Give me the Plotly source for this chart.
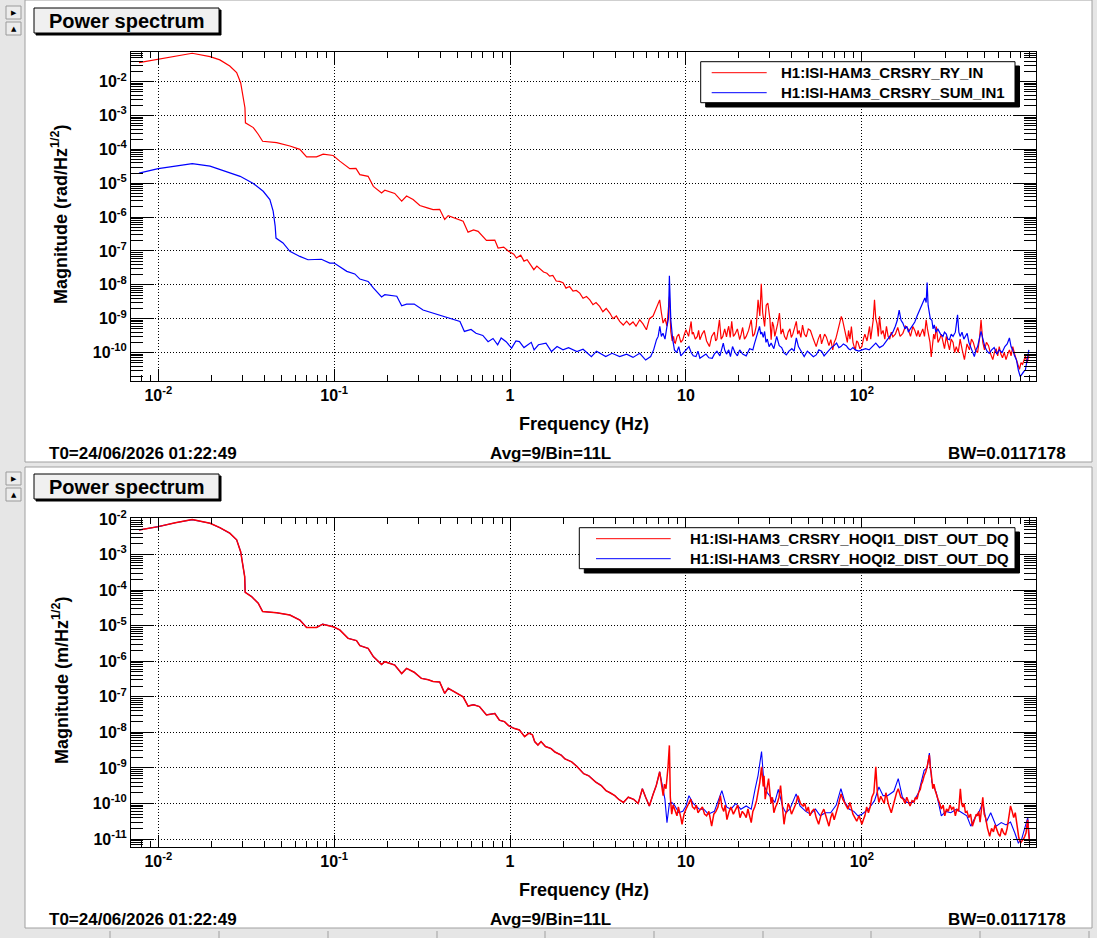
import plotly.graph_objects as go
from plotly.subplots import make_subplots

W, H = 1097, 938
FONT = 'Liberation Sans'
BG = '#e6e6e6'

# ---------------- top pad: H1:ISI-HAM3_CRSRY_RY_IN / SUM_IN1  (rad/Hz^1/2)
ry_in_freq = [0.00777, 0.0100, 0.0125, 0.0156, 0.0197, 0.0224, 0.0255, 0.0279, 0.0294, 0.0304,
              0.0311, 0.0313, 0.0347, 0.0370, 0.0392, 0.0471, 0.0560, 0.0638, 0.0697, 0.0794,
              0.0866, 0.0987, 0.1076, 0.1227, 0.133, 0.140, 0.156, 0.167, 0.186, 0.194,
              0.221, 0.242, 0.258, 0.281, 0.307, 0.335, 0.365, 0.398, 0.425, 0.445,
              0.490, 0.541, 0.577, 0.620, 0.658, 0.734, 0.819, 0.855, 0.92, 0.98,
              1.05, 1.087, 1.15, 1.20, 1.25, 1.30, 1.365, 1.42, 1.46, 1.55,
              1.62, 1.68, 1.75, 1.83, 1.91, 2.0, 2.08, 2.18, 2.28, 2.38,
              2.49, 2.6, 2.72, 2.84, 2.96, 3.08, 3.23, 3.37, 3.52, 3.69,
              3.85, 4.02, 4.2, 4.4, 4.6, 4.79, 5.0, 5.2, 5.46, 5.7,
              5.96, 6.2, 6.5, 6.8, 7.09, 7.25, 7.41, 7.6, 7.8, 8.05,
              8.2, 8.35, 8.5, 8.6, 8.7, 8.9, 9.1, 9.35, 9.6, 9.8,
              10.0, 10.35, 10.7, 10.85, 11.0, 11.3, 11.6, 11.8, 12.0, 12.35,
              12.7, 13.1, 13.6, 14.0, 14.5, 14.75, 15.0, 15.25, 15.5, 15.85,
              16.2, 16.6, 17.0, 17.25, 17.5, 17.85, 18.2, 18.6, 19.0, 19.6,
              20.2, 20.6, 21.0, 21.5, 22.0, 22.7, 23.5, 24.0, 24.5, 25.1,
              25.7, 26.3, 26.8, 27.3, 28.0, 28.6, 29.2, 30.0, 30.5, 31.0,
              31.5, 32.0, 32.5, 33.2, 34.0, 34.7, 35.5, 36.3, 37.2, 38.1,
              39.0, 39.7, 40.5, 41.4, 42.4, 43.2, 44.0, 45.0, 46.0, 47.1,
              48.3, 49.6, 51.0, 53.0, 55.0, 56.5, 58.0, 59.0, 60.0, 61.4,
              62.8, 63.9, 65.0, 66.6, 68.3, 69.6, 71.0, 72.2, 73.5, 75.0,
              76.4, 77.7, 79.0, 80.2, 81.5, 82.7, 84.0, 85.6, 87.2, 88.1,
              89.0, 90.4, 91.8, 93.4, 95.0, 97.5, 100.0, 102.0, 104.0, 107.0,
              110.6, 112.3, 114.0, 116.0, 118.0, 120.0, 122.0, 124.0, 126.0, 129.0,
              132.0, 135.0, 138.0, 141.0, 144.0, 147.0, 150.0, 155.0, 160.0, 165.0,
              171.0, 177.0, 183.0, 189.0, 195.0, 200.0, 205.0, 209.0, 213.0, 217.0,
              222.0, 227.0, 232.0, 236.0, 240.0, 244.0, 248.0, 252.0, 256.0, 260.0,
              265.0, 271.0, 277.0, 283.0, 289.0, 295.0, 302.0, 308.0, 315.0, 322.0,
              330.0, 337.0, 344.0, 353.0, 362.0, 372.0, 383.0, 396.0, 409.0, 420.0,
              430.0, 442.0, 455.0, 466.0, 476.0, 487.0, 498.0, 511.0, 525.0, 540.0,
              555.0, 567.0, 580.0, 592.0, 604.0, 617.0, 630.0, 645.0, 660.0, 675.0,
              690.0, 705.0, 721.0, 739.0, 757.0, 772.0, 787.0, 803.0, 820.0, 835.0,
              850.0, 870.0, 890.0]
ry_in_mag = [3.65e-2, 4.6e-2, 5.6e-2, 6.9e-2, 5.5e-2, 4.4e-2, 2.9e-2, 1.85e-2, 9.3e-3, 3.7e-3,
             1.7e-3, 6.1e-4, 4.4e-4, 2.8e-4, 1.74e-4, 1.58e-4, 1.26e-4, 1.0e-4, 6.0e-5, 6.0e-5,
             7.2e-5, 6.6e-5, 4.5e-5, 2.7e-5, 2.75e-5, 1.8e-5, 1.6e-5, 8.1e-6, 5.2e-6, 6.2e-6,
             5.0e-6, 2.95e-6, 4.2e-6, 3.3e-6, 2.2e-6, 1.9e-6, 1.66e-6, 1.7e-6, 8.5e-7, 1.1e-6,
             9.0e-7, 7.6e-7, 3.6e-7, 4.2e-7, 3.8e-7, 2.06e-7, 2.1e-7, 1.22e-7, 1.3e-7, 9.8e-8,
             8.0e-8, 6.2e-8, 7.5e-8, 5.0e-8, 5.5e-8, 4.2e-8, 2.8e-8, 3.6e-8, 3.2e-8, 2.4e-8,
             2.2e-8, 1.8e-8, 1.9e-8, 1.3e-8, 1.26e-8, 1.15e-8, 8.0e-9, 8.9e-9, 6.5e-9, 6.8e-9,
             5.7e-9, 4.0e-9, 4.5e-9, 3.6e-9, 2.6e-9, 3.0e-9, 2.3e-9, 1.6e-9, 2.0e-9, 1.47e-9,
             1.0e-9, 1.2e-9, 8.3e-10, 6.5e-10, 8.5e-10, 6.6e-10, 8.0e-10, 6.0e-10, 9.3e-10, 7.0e-10,
             4.7e-10, 1.0e-9, 1.2e-9, 2.0e-9, 3.6e-9, 1.5e-9, 7.4e-10, 1.0e-9, 6.0e-10, 4.5e-9,
             4.2e-10, 2.2e-10, 3.0e-10, 2.0e-10, 1.9e-10, 3.0e-10, 3.5e-10, 2.0e-10, 2.4e-10, 3.5e-10,
             4.7e-10, 3.0e-10, 8.3e-10, 3.5e-10, 4.0e-10, 2.5e-10, 3.0e-10, 4.5e-10, 2.4e-10, 3.5e-10,
             4.5e-10, 2.2e-10, 1.5e-10, 3.0e-10, 4.0e-10, 2.2e-10, 2.5e-10, 5.0e-10, 9.3e-10, 2.5e-10,
             3.0e-10, 5.0e-10, 2.9e-10, 4.5e-10, 6.0e-10, 2.8e-10, 8.3e-10, 3.0e-10, 3.5e-10, 5.0e-10,
             2.4e-10, 3.5e-10, 5.5e-10, 2.5e-10, 3.0e-10, 4.5e-10, 9.3e-10, 3.0e-10, 3.5e-10, 6.0e-10,
             3.6e-9, 1.2e-9, 1.07e-8, 1.5e-9, 5.9e-10, 2.5e-9, 2.9e-9, 1.0e-9, 2.4e-10, 8.0e-10,
             6.0e-10, 3.0e-10, 4.0e-10, 7.0e-10, 1.47e-9, 3.5e-10, 5.0e-10, 3.0e-10, 2.4e-10, 4.0e-10,
             5.0e-10, 2.8e-10, 3.5e-10, 5.0e-10, 8.3e-10, 3.5e-10, 4.5e-10, 2.8e-10, 6.5e-10, 3.5e-10,
             2.9e-10, 5.0e-10, 4.5e-10, 2.5e-10, 1.5e-10, 2.5e-10, 3.5e-10, 1.8e-10, 2.5e-10, 3.5e-10,
             2.9e-10, 2.0e-10, 1.6e-10, 2.4e-10, 1.2e-10, 2.0e-10, 2.5e-10, 3.5e-10, 5.0e-10, 8.0e-10,
             1.17e-9, 9.0e-10, 6.0e-10, 3.5e-10, 2.9e-10, 2.0e-10, 4.5e-10, 2.5e-10, 5.9e-10, 3.0e-10,
             2.0e-10, 1.5e-10, 1.2e-10, 2.2e-10, 2.0e-10, 1.3e-10, 1.5e-10, 2.5e-10, 3.5e-10, 2.2e-10,
             5.9e-10, 2.5e-10, 4.0e-10, 9.0e-10, 3.6e-9, 1.0e-9, 7.0e-10, 3.0e-10, 1.17e-9, 3.5e-10,
             4.5e-10, 2.5e-10, 5.9e-10, 3.0e-10, 2.5e-10, 4.0e-10, 2.9e-10, 3.5e-10, 5.5e-10, 3.0e-10,
             3.7e-10, 6.0e-10, 5.0e-10, 3.0e-10, 5.9e-10, 4.5e-10, 3.0e-10, 4.5e-10, 2.9e-10, 4.0e-10,
             5.0e-10, 3.0e-10, 9.3e-10, 5.0e-10, 3.0e-10, 2.0e-10, 7.4e-11, 2.0e-10, 3.5e-10, 2.5e-10,
             5.9e-10, 2.0e-10, 2.5e-10, 3.5e-10, 1.9e-10, 1.3e-10, 3.0e-10, 2.0e-10, 1.2e-10, 2.5e-10,
             2.0e-10, 1.0e-10, 1.5e-10, 1.0e-10, 2.5e-10, 1.2e-10, 6.2e-11, 1.8e-10, 1.2e-10, 2.5e-10,
             2.0e-10, 1.2e-10, 1.0e-10, 2.5e-10, 9.3e-10, 2.0e-10, 1.2e-10, 2.0e-10, 1.6e-10, 9.0e-11,
             6.2e-11, 1.0e-10, 1.3e-10, 8.0e-11, 1.5e-10, 9.0e-11, 7.0e-11, 1.0e-10, 6.2e-11, 9.0e-11,
             1.2e-10, 8.0e-11, 1.5e-10, 9.0e-11, 6.0e-11, 4.5e-11, 3.2e-11, 5.0e-11, 4.5e-11, 6.0e-11,
             8.0e-11, 5.0e-11, 8.0e-11]

sum_in1_freq = [0.00777, 0.0100, 0.0125, 0.0156, 0.0197, 0.0245, 0.0292, 0.0347, 0.0395, 0.0431,
                0.0450, 0.0462, 0.0467, 0.0512, 0.0560, 0.0638, 0.0710, 0.0846, 0.0944, 0.1000,
                0.118, 0.131, 0.140, 0.156, 0.167, 0.186, 0.194, 0.227, 0.242, 0.258,
                0.285, 0.320, 0.365, 0.415, 0.445, 0.519, 0.550, 0.600, 0.640, 0.700,
                0.750, 0.800, 0.850, 0.890, 0.950, 1.02, 1.08, 1.13, 1.20, 1.27,
                1.32, 1.37, 1.45, 1.60, 1.72, 1.85, 2.00, 2.15, 2.40, 2.60,
                2.90, 3.10, 3.30, 3.50, 3.80, 4.20, 4.60, 5.00, 5.46, 5.90,
                6.30, 6.55, 6.80, 6.95, 7.10, 7.25, 7.40, 7.60, 7.80, 7.95,
                8.05, 8.20, 8.40, 8.60, 8.85, 9.10, 9.35, 9.60, 10.0, 10.4,
                10.7, 11.0, 11.4, 11.7, 12.0, 12.5, 13.0, 13.5, 14.1, 14.5,
                15.0, 15.6, 16.3, 16.6, 17.0, 17.5, 17.9, 18.4, 19.0, 19.6,
                20.2, 21.0, 22.0, 23.0, 24.0, 24.5, 25.0, 25.6, 26.2, 26.6,
                27.0, 27.5, 28.0, 28.5, 29.0, 29.7, 30.5, 31.6, 32.8, 33.9,
                35.0, 36.0, 37.2, 38.5, 40.0, 41.2, 42.4, 43.6, 45.0, 46.0,
                47.0, 49.0, 51.0, 53.0, 55.0, 57.0, 59.0, 61.0, 62.8, 65.0,
                67.0, 69.5, 71.8, 74.0, 76.0, 78.5, 81.5, 84.0, 86.0, 89.0,
                91.8, 96.0, 100.0, 105.0, 110.0, 115.0, 120.0, 126.0, 132.0, 138.0,
                145.0, 150.0, 155.0, 159.0, 163.0, 167.0, 171.0, 176.0, 180.0, 184.0,
                187.0, 193.0, 200.0, 206.0, 213.0, 220.0, 228.0, 232.0, 235.0, 238.0,
                240.0, 245.0, 250.0, 254.0, 258.0, 264.0, 270.0, 280.0, 289.0, 295.0,
                302.0, 308.0, 315.0, 322.0, 330.0, 340.0, 350.0, 356.0, 362.0, 371.0,
                380.0, 388.0, 397.0, 406.0, 415.0, 425.0, 436.0, 445.0, 455.0, 465.0,
                476.0, 488.0, 500.0, 515.0, 530.0, 547.0, 565.0, 585.0, 604.0, 627.0,
                650.0, 670.0, 690.0, 705.0, 720.0, 738.0, 757.0, 776.0, 795.0, 808.0,
                820.0, 835.0, 850.0, 870.0, 890.0]
sum_in1_mag = [2.0e-5, 2.7e-5, 3.2e-5, 3.8e-5, 3.2e-5, 2.2e-5, 1.6e-5, 9.8e-6, 5.8e-6, 3.3e-6,
               1.5e-6, 5.4e-7, 2.4e-7, 1.73e-7, 9.8e-8, 6.9e-8, 5.5e-8, 5.7e-8, 4.4e-8, 4.4e-8,
               2.5e-8, 2.1e-8, 1.48e-8, 1.26e-8, 8.1e-9, 4.4e-9, 5.1e-9, 4.6e-9, 2.4e-9, 2.7e-9,
               2.7e-9, 1.8e-9, 1.47e-9, 1.17e-9, 1.05e-9, 8.3e-10, 4.2e-10, 4.8e-10, 3.7e-10, 3.2e-10,
               2.1e-10, 2.6e-10, 1.7e-10, 2.7e-10, 2.1e-10, 1.35e-10, 2.2e-10, 2.1e-10, 1.4e-10, 1.7e-10,
               2.0e-10, 1.2e-10, 1.7e-10, 1.9e-10, 1.07e-10, 1.5e-10, 1.2e-10, 1.4e-10, 1.07e-10, 1.25e-10,
               7.6e-11, 1.1e-10, 9.0e-11, 7.6e-11, 9.5e-11, 7.6e-11, 9.0e-11, 7.2e-11, 9.5e-11, 6.0e-11,
               7.6e-11, 1.2e-10, 2.4e-10, 3.0e-10, 5.9e-10, 3.0e-10, 3.7e-10, 2.5e-10, 5.9e-10, 1.0e-9,
               1.86e-8, 9.3e-10, 2.5e-10, 1.2e-10, 1.0e-10, 1.5e-10, 8.0e-11, 9.5e-11, 1.2e-10, 1.5e-10,
               1.0e-10, 8.0e-11, 7.6e-11, 1.1e-10, 6.8e-11, 8.0e-11, 9.0e-11, 7.0e-11, 6.8e-11, 9.0e-11,
               1.1e-10, 8.0e-11, 1.9e-10, 1.2e-10, 9.0e-11, 1.2e-10, 7.6e-11, 1.5e-10, 1.0e-10, 8.0e-11,
               1.2e-10, 9.0e-11, 8.0e-11, 1.3e-10, 1.2e-10, 1.8e-10, 2.5e-10, 3.5e-10, 5.9e-10, 3.5e-10,
               4.0e-10, 2.8e-10, 4.2e-10, 2.0e-10, 2.5e-10, 1.5e-10, 1.9e-10, 1.3e-10, 3.0e-10, 1.6e-10,
               1.4e-10, 1.0e-10, 8.5e-11, 1.1e-10, 1.3e-10, 1.1e-10, 2.7e-10, 1.5e-10, 1.1e-10, 9.0e-11,
               7.6e-11, 1.1e-10, 9.0e-11, 7.5e-11, 8.5e-11, 1.2e-10, 1.1e-10, 8.0e-11, 9.5e-11, 1.2e-10,
               1.4e-10, 1.6e-10, 1.9e-10, 1.4e-10, 1.5e-10, 1.8e-10, 1.6e-10, 1.3e-10, 1.2e-10, 1.4e-10,
               1.2e-10, 1.1e-10, 1.2e-10, 1.3e-10, 1.2e-10, 1.5e-10, 1.9e-10, 1.4e-10, 1.6e-10, 2.2e-10,
               3.0e-10, 4.0e-10, 6.0e-10, 9.0e-10, 1.8e-9, 9.0e-10, 7.4e-10, 5.0e-10, 6.0e-10, 4.0e-10,
               4.7e-10, 6.0e-10, 8.0e-10, 1.2e-9, 1.8e-9, 2.5e-9, 4.1e-9, 3.0e-9, 1.17e-8, 2.5e-9,
               1.8e-9, 1.0e-9, 9.0e-10, 5.0e-10, 6.6e-10, 4.0e-10, 5.0e-10, 3.5e-10, 3.0e-10, 4.0e-10,
               3.5e-10, 2.5e-10, 2.4e-10, 3.5e-10, 3.0e-10, 4.0e-10, 1.3e-9, 4.0e-10, 3.0e-10, 4.0e-10,
               2.5e-10, 3.0e-10, 3.7e-10, 2.0e-10, 1.5e-10, 1.0e-10, 7.6e-11, 1.2e-10, 1.5e-10, 2.5e-10,
               4.2e-10, 2.5e-10, 1.5e-10, 1.1e-10, 9.5e-11, 1.2e-10, 1.4e-10, 9.0e-11, 1.2e-10, 1.0e-10,
               1.5e-10, 1.8e-10, 2.7e-10, 1.5e-10, 1.2e-10, 8.0e-11, 6.0e-11, 3.0e-11, 1.95e-11, 2.2e-11,
               2.5e-11, 2.8e-11, 3.0e-11, 7.0e-11, 1.2e-10]

# ---------------- bottom pad: HOQI1 / HOQI2 DIST_OUT_DQ  (m/Hz^1/2)
# below ~7 Hz the two channels lie on top of each other (blue hidden under red)
hoqi_low_freq = [0.00777, 0.0100, 0.0125, 0.0156, 0.0197, 0.0224, 0.0255, 0.0279, 0.0294, 0.0304,
                 0.0310, 0.0312, 0.0339, 0.0370, 0.0392, 0.0471, 0.0560, 0.0638, 0.0697, 0.0794,
                 0.0860, 0.0987, 0.1076, 0.120, 0.134, 0.140, 0.156, 0.167, 0.186, 0.194,
                 0.221, 0.242, 0.258, 0.285, 0.313, 0.343, 0.365, 0.398, 0.425, 0.445,
                 0.490, 0.541, 0.577, 0.620, 0.670, 0.734, 0.819, 0.870, 0.930, 0.980,
                 1.05, 1.13, 1.21, 1.28, 1.34, 1.38, 1.44, 1.50, 1.59, 1.71,
                 1.80, 1.95, 2.05, 2.24, 2.40, 2.62, 2.80, 3.07, 3.30, 3.51,
                 3.70, 3.94, 4.15, 4.41, 4.70, 5.05, 5.35, 5.65, 5.90, 6.19,
                 6.50, 6.78, 7.09]
hoqi_low_mag = [4.9e-3, 6.1e-3, 7.8e-3, 9.6e-3, 7.6e-3, 5.7e-3, 4.0e-3, 2.6e-3, 1.2e-3, 5.1e-4,
                2.4e-4, 8.7e-5, 6.6e-5, 4.3e-5, 2.5e-5, 2.3e-5, 2.0e-5, 1.44e-5, 8.9e-6, 8.9e-6,
                1.1e-5, 9.3e-6, 7.6e-6, 4.4e-6, 3.8e-6, 2.75e-6, 2.3e-6, 1.35e-6, 8.1e-7, 9.7e-7,
                7.8e-7, 4.5e-7, 6.3e-7, 4.9e-7, 3.3e-7, 3.0e-7, 2.7e-7, 2.6e-7, 1.25e-7, 1.73e-7,
                1.3e-7, 1.0e-7, 5.5e-8, 6.0e-8, 5.3e-8, 3.1e-8, 3.4e-8, 2.2e-8, 2.0e-8, 1.55e-8,
                1.3e-8, 1.17e-8, 7.6e-9, 9.5e-9, 8.5e-9, 5.5e-9, 4.4e-9, 5.5e-9, 4.0e-9, 3.5e-9,
                2.8e-9, 2.3e-9, 1.8e-9, 1.48e-9, 1.1e-9, 6.9e-10, 6.0e-10, 4.0e-10, 3.2e-10, 2.3e-10,
                2.0e-10, 1.66e-10, 1.3e-10, 1.07e-10, 1.5e-10, 1.3e-10, 1.0e-10, 2.6e-10, 1.5e-10, 8.5e-11,
                1.8e-10, 3.2e-10, 7.8e-10]

hoqi1_freq = [7.25, 7.42, 7.55, 7.70, 7.90, 8.05, 8.15, 8.30, 8.45, 8.60,
              8.75, 8.89, 9.05, 9.20, 9.35, 9.50, 9.75, 10.0, 10.3, 10.65,
              10.9, 11.2, 11.45, 11.7, 12.0, 12.4, 12.75, 13.1, 13.5, 14.0,
              14.4, 14.8, 15.2, 15.7, 16.0, 16.4, 16.7, 17.1, 17.5, 18.0,
              18.6, 19.2, 19.7, 20.3, 20.9, 21.5, 22.0, 22.5, 23.0, 23.5,
              24.0, 24.6, 25.2, 25.7, 26.3, 26.9, 27.2, 27.5, 27.8, 28.2,
              28.8, 29.5, 30.0, 30.5, 31.0, 31.6, 32.3, 33.0, 33.8, 34.5,
              35.3, 36.1, 36.8, 37.5, 38.1, 38.7, 39.8, 41.0, 42.2, 43.3,
              44.8, 46.4, 47.4, 48.5, 49.6, 50.7, 52.0, 53.5, 55.0, 56.8,
              58.8, 60.8, 62.8, 65.0, 66.5, 68.0, 69.6, 71.2, 72.3, 73.5,
              74.8, 76.2, 78.0, 80.0, 81.7, 83.4, 85.5, 87.2, 89.0, 91.2,
              93.5, 96.5, 100.0, 102.0, 104.0, 106.5, 109.0, 111.5, 114.0, 117.0,
              120.0, 122.5, 125.0, 128.0, 131.0, 134.0, 137.0, 142.0, 147.0, 150.5,
              154.0, 157.5, 161.0, 166.5, 172.0, 176.0, 180.0, 184.0, 188.0, 193.0,
              198.0, 202.0, 206.0, 210.0, 215.0, 218.0, 221.0, 226.0, 231.0, 236.0,
              242.0, 245.0, 248.0, 253.0, 257.0, 262.0, 266.0, 271.0, 277.0, 283.0,
              290.0, 296.0, 303.0, 310.0, 317.0, 324.0, 332.0, 340.0, 347.0, 355.0,
              363.0, 369.0, 375.0, 381.0, 388.0, 396.0, 405.0, 415.0, 425.0, 432.0,
              440.0, 447.0, 455.0, 462.0, 470.0, 478.0, 487.0, 496.0, 505.0, 518.0,
              533.0, 546.0, 560.0, 572.0, 584.0, 597.0, 610.0, 624.0, 639.0, 655.0,
              670.0, 685.0, 700.0, 715.0, 730.0, 745.0, 759.0, 770.0, 780.0, 790.0,
              801.0, 815.0, 830.0, 844.0, 858.0, 868.0, 877.0, 887.0, 897.0]
hoqi1_mag = [3.0e-10, 1.66e-10, 3.5e-10, 2.6e-10, 1.0e-9, 4.3e-9, 1.5e-10, 5.0e-11, 9.0e-11, 7.0e-11,
             5.0e-11, 4.5e-11, 8.0e-11, 6.0e-11, 4.0e-11, 2.6e-11, 5.0e-11, 6.9e-11, 9.0e-11, 1.32e-10,
             8.0e-11, 7.0e-11, 9.0e-11, 5.5e-11, 6.5e-11, 8.0e-11, 5.0e-11, 4.5e-11, 6.0e-11, 2.3e-11,
             5.0e-11, 6.0e-11, 8.0e-11, 1.66e-10, 8.0e-11, 6.0e-11, 9.0e-11, 3.5e-11, 5.5e-11, 8.0e-11,
             5.0e-11, 6.9e-11, 9.0e-11, 4.0e-11, 6.0e-11, 5.0e-11, 4.0e-11, 7.0e-11, 4.5e-11, 2.9e-11,
             6.0e-11, 8.0e-11, 1.2e-10, 2.0e-10, 4.0e-10, 1.07e-9, 4.5e-10, 3.0e-10, 6.0e-10, 1.32e-10,
             2.5e-10, 5.0e-10, 2.0e-10, 1.0e-10, 1.5e-10, 5.5e-11, 8.0e-11, 1.0e-10, 1.5e-10, 3.2e-10,
             9.0e-11, 2.6e-11, 5.0e-11, 6.0e-11, 1.0e-10, 8.5e-11, 5.0e-11, 7.0e-11, 1.0e-10, 1.66e-10,
             1.0e-10, 8.5e-11, 1.0e-10, 6.0e-11, 8.0e-11, 4.5e-11, 6.0e-11, 7.0e-11, 4.0e-11, 2.6e-11,
             5.0e-11, 6.9e-11, 4.0e-11, 2.3e-11, 4.0e-11, 5.5e-11, 3.5e-11, 5.0e-11, 6.0e-11, 9.0e-11,
             1.3e-10, 1.86e-10, 1.3e-10, 1.0e-10, 8.0e-11, 6.9e-11, 1.07e-10, 7.0e-11, 5.0e-11, 4.0e-11,
             3.2e-11, 4.5e-11, 2.6e-11, 3.5e-11, 4.5e-11, 8.0e-11, 5.5e-11, 8.0e-11, 1.5e-10, 2.0e-10,
             1.07e-9, 2.0e-10, 1.07e-10, 1.6e-10, 1.3e-10, 1.0e-10, 2.0e-10, 9.0e-11, 5.5e-11, 9.0e-11,
             1.5e-10, 2.0e-10, 2.6e-10, 1.5e-10, 1.32e-10, 1.0e-10, 1.5e-10, 1.1e-10, 8.5e-11, 1.2e-10,
             1.1e-10, 1.5e-10, 1.32e-10, 2.0e-10, 2.5e-10, 3.5e-10, 4.0e-10, 6.0e-10, 7.8e-10, 1.2e-9,
             2.3e-9, 1.0e-9, 7.0e-10, 2.6e-10, 3.5e-10, 2.2e-10, 1.6e-10, 1.32e-10, 1.0e-10, 7.0e-11,
             9.0e-11, 4.5e-11, 7.0e-11, 6.0e-11, 9.0e-11, 6.9e-11, 8.0e-11, 4.5e-11, 7.0e-11, 6.0e-11,
             2.6e-10, 1.0e-10, 8.0e-11, 1.0e-10, 5.5e-11, 6.0e-11, 4.0e-11, 5.0e-11, 2.3e-11, 3.0e-11,
             3.5e-11, 5.0e-11, 4.5e-11, 6.0e-11, 3.0e-11, 6.0e-11, 1.5e-10, 5.0e-11, 4.0e-11, 2.0e-11,
             1.2e-11, 2.0e-11, 1.6e-11, 2.5e-11, 1.86e-11, 1.4e-11, 1.2e-11, 2.0e-11, 1.5e-11, 1.3e-11,
             2.0e-11, 4.0e-11, 8.5e-11, 6.0e-11, 4.0e-11, 5.5e-11, 2.9e-11, 1.5e-11, 1.1e-11, 9.0e-12,
             7.8e-12, 9.0e-12, 1.0e-11, 1.2e-11, 1.5e-11, 2.5e-11, 3.5e-11, 1.5e-11, 8.5e-12]

hoqi2_freq = [7.25, 7.59, 7.80, 8.05, 8.30, 8.60, 9.10, 9.60, 10.0, 10.4,
              11.0, 11.9, 12.6, 13.4, 14.5, 15.3, 16.0, 17.0, 18.0, 19.2,
              20.5, 22.0, 23.5, 24.7, 25.7, 26.9, 27.8, 29.0, 30.5, 32.0,
              33.5, 35.5, 37.0, 39.0, 42.3, 44.5, 48.0, 51.0, 54.5, 58.0,
              62.0, 66.5, 71.5, 76.0, 80.0, 85.0, 90.0, 95.0, 100.0, 109.0,
              118.0, 125.0, 132.0, 140.0, 152.0, 161.0, 170.0, 180.0, 195.0, 210.0,
              226.0, 235.0, 242.0, 250.0, 265.0, 283.0, 300.0, 320.0, 345.0, 370.0,
              395.0, 416.0, 440.0, 465.0, 487.0, 510.0, 540.0, 580.0, 620.0, 660.0,
              700.0, 740.0, 775.0, 810.0, 850.0, 877.0, 897.0]
hoqi2_mag = [4.0e-10, 1.32e-10, 2.9e-11, 1.0e-10, 1.07e-10, 9.0e-11, 5.5e-11, 6.0e-11, 8.5e-11, 1.66e-10,
             1.0e-10, 6.9e-11, 7.0e-11, 5.0e-11, 6.0e-11, 1.2e-10, 2.3e-10, 8.0e-11, 6.9e-11, 1.0e-10,
             6.9e-11, 8.5e-11, 6.9e-11, 2.5e-10, 6.2e-10, 2.9e-9, 3.2e-10, 2.0e-10, 1.5e-10, 1.07e-10,
             2.5e-10, 8.0e-11, 5.5e-11, 7.0e-11, 1.86e-10, 8.5e-11, 6.0e-11, 5.0e-11, 6.9e-11, 4.5e-11,
             5.5e-11, 5.5e-11, 9.0e-11, 2.6e-10, 1.1e-10, 6.9e-11, 6.0e-11, 4.5e-11, 5.0e-11, 6.9e-11,
             1.2e-10, 2.9e-10, 1.66e-10, 1.66e-10, 2.2e-10, 5.0e-10, 1.5e-10, 1.07e-10, 1.07e-10, 2.0e-10,
             8.5e-10, 1.0e-9, 2.6e-9, 4.0e-10, 2.0e-10, 4.5e-11, 6.0e-11, 5.5e-11, 6.9e-11, 5.5e-11,
             4.5e-11, 2.3e-11, 4.0e-11, 6.0e-11, 1.07e-10, 3.0e-11, 5.5e-11, 2.3e-11, 2.9e-11, 2.5e-11,
             3.0e-11, 1.5e-11, 7.8e-12, 1.0e-11, 2.3e-11, 4.0e-11, 1.0e-11]

# ---------------- ticks
freq_ticks = [1e-2, 1e-1, 1, 10, 100]
freq_labels = ['10<sup>-2</sup>', '10<sup>-1</sup>', '1', '10', '10<sup>2</sup>']
top_mag_ticks = [1e-10, 1e-9, 1e-8, 1e-7, 1e-6, 1e-5, 1e-4, 1e-3, 1e-2]
top_mag_labels = ['10<sup>-10</sup>', '10<sup>-9</sup>', '10<sup>-8</sup>', '10<sup>-7</sup>', '10<sup>-6</sup>',
                  '10<sup>-5</sup>', '10<sup>-4</sup>', '10<sup>-3</sup>', '10<sup>-2</sup>']
bot_mag_ticks = [1e-11] + top_mag_ticks
bot_mag_labels = ['10<sup>-11</sup>'] + top_mag_labels

x_minor = [m * 10.0 ** e for e in range(-3, 3) for m in range(2, 10)]
y_minor = [m * 10.0 ** e for e in range(-12, 0) for m in range(2, 10)]


def px(x):
    return x / W


def py(y):
    return 1 - y / H


fig = make_subplots(rows=2, cols=1)

fig.add_trace(go.Scatter(x=ry_in_freq, y=ry_in_mag, mode='lines', name='H1:ISI-HAM3_CRSRY_RY_IN',
                         line=dict(color='#ff0000', width=1.2)), row=1, col=1)
fig.add_trace(go.Scatter(x=sum_in1_freq, y=sum_in1_mag, mode='lines', name='H1:ISI-HAM3_CRSRY_SUM_IN1',
                         line=dict(color='#0000ff', width=1.2)), row=1, col=1)
fig.add_trace(go.Scatter(x=hoqi_low_freq + hoqi2_freq, y=hoqi_low_mag + hoqi2_mag, mode='lines',
                         name='H1:ISI-HAM3_CRSRY_HOQI2_DIST_OUT_DQ',
                         line=dict(color='#0000ff', width=1.1)), row=2, col=1)
fig.add_trace(go.Scatter(x=hoqi_low_freq + hoqi1_freq, y=hoqi_low_mag + hoqi1_mag, mode='lines',
                         name='H1:ISI-HAM3_CRSRY_HOQI1_DIST_OUT_DQ',
                         line=dict(color='#ff0000', width=1.5)), row=2, col=1)

tickfont = dict(family=FONT, size=16, color='black', weight='bold')
panels = [(1, 0, top_mag_ticks, top_mag_labels, [-10.84, -1.124]),
          (2, 466, bot_mag_ticks, bot_mag_labels, [-11.224, -1.972])]

layout_axes = {}
for row, off, yt, yl, yr in panels:
    xdom = [px(131), px(1036)]
    ydom = [py(381 + off), py(52 + off)]
    fig.update_xaxes(row=row, col=1, type='log', range=[-2.155, 2.99], domain=xdom,
                     tickmode='array', tickvals=freq_ticks, ticktext=freq_labels, tickfont=tickfont,
                     ticks='inside', ticklen=12, tickwidth=1, tickcolor='black',
                     showline=True, linecolor='black', linewidth=1, mirror='allticks',
                     showgrid=True, gridcolor='black', griddash='1px,2px', gridwidth=1,
                     zeroline=False, automargin=False)
    fig.update_yaxes(row=row, col=1, type='log', range=yr, domain=ydom,
                     tickmode='array', tickvals=yt, ticktext=yl, tickfont=tickfont,
                     ticks='inside', ticklen=23, tickwidth=1, tickcolor='black',
                     showline=True, linecolor='black', linewidth=1, mirror='allticks',
                     showgrid=True, gridcolor='black', griddash='1px,2px', gridwidth=1,
                     zeroline=False, automargin=False)
    # overlay axes that carry the small (2..9 x 10^n) ticks
    n = row + 2
    main_x, main_y = ('x', 'y') if row == 1 else ('x2', 'y2')
    layout_axes['xaxis%d' % n] = dict(type='log', range=[-2.155, 2.99], domain=xdom, overlaying=main_x,
                                      anchor='y%d' % n, tickmode='array', tickvals=x_minor,
                                      ticks='inside', ticklen=6, tickwidth=1, tickcolor='black',
                                      mirror='allticks', showticklabels=False, showgrid=False,
                                      showline=False, zeroline=False, automargin=False)
    layout_axes['yaxis%d' % n] = dict(type='log', range=yr, domain=ydom, overlaying=main_y,
                                      anchor='x%d' % n, tickmode='array', tickvals=y_minor,
                                      ticks='inside', ticklen=12, tickwidth=1, tickcolor='black',
                                      mirror='allticks', showticklabels=False, showgrid=False,
                                      showline=False, zeroline=False, automargin=False)
    fig.add_trace(go.Scatter(x=[], y=[], xaxis='x%d' % n, yaxis='y%d' % n, showlegend=False))

shapes = []
annotations = []


def rect(x0, y0, x1, y1, fill, line='black', width=1, layer='above'):
    shapes.append(dict(type='rect', xref='paper', yref='paper', x0=px(x0), x1=px(x1),
                       y0=py(y1), y1=py(y0), fillcolor=fill, layer=layer,
                       line=dict(color=line, width=width)))


def text(x, y, s, size, anchor='center', angle=0, weight='bold', color='black', family=FONT):
    annotations.append(dict(xref='paper', yref='paper', x=px(x), y=py(y), text=s, showarrow=False,
                            xanchor=anchor, yanchor='middle', textangle=angle,
                            font=dict(family=family, size=size, color=color, weight=weight)))


# canvas pads and the bottom status bar
rect(25, 0, 1092, 462, 'white', line='#a0a0a0', layer='below')
rect(25, 467, 1092, 928, 'white', line='#a0a0a0', layer='below')
for sx in [110, 219, 328, 437, 545, 654, 763, 871, 980, 1089]:
    shapes.append(dict(type='line', xref='paper', yref='paper', x0=px(sx), x1=px(sx),
                       y0=py(938), y1=py(931), line=dict(color='#a0a0a0', width=1)))

legends = [
    (['H1:ISI-HAM3_CRSRY_RY_IN', 'H1:ISI-HAM3_CRSRY_SUM_IN1'], 700.7, 711.7, 766.7, 779.3),
    (['H1:ISI-HAM3_CRSRY_HOQI1_DIST_OUT_DQ', 'H1:ISI-HAM3_CRSRY_HOQI2_DIST_OUT_DQ'], 579.3, 596, 670.7, 688.3),
]
units = ['Magnitude (rad/Hz<sup>1/2</sup>)', 'Magnitude (m/Hz<sup>1/2</sup>)']

for (row, off, _, _, _), (names, lx0, sx0, sx1, tx), unit in zip(panels, legends, units):
    # pad buttons
    rect(6, 6 + off, 21, 19 + off, '#ececec', line='#9a9a9a')
    rect(6, 22 + off, 21, 35 + off, '#ececec', line='#9a9a9a')
    text(13.8, 12.5 + off, '\u25b6', 7, family='DejaVu Sans', weight='normal')
    text(13.5, 28.5 + off, '\u25b2', 7, family='DejaVu Sans', weight='normal')
    # title box with shadow
    rect(36, 10 + off, 221, 35 + off, 'black')
    rect(34, 8 + off, 219, 33 + off, '#f0f0f0')
    text(127, 21 + off, 'Power spectrum', 20)
    # legend box with shadow
    rect(lx0 + 5, 66 + off, 1019.5, 107 + off, 'black')
    rect(lx0, 61.7 + off, 1015, 102.7 + off, 'white')
    for name, color, ly in zip(names, ['#ff0000', '#0000ff'], [72.7, 92.7]):
        shapes.append(dict(type='line', xref='paper', yref='paper', x0=px(sx0), x1=px(sx1),
                           y0=py(ly + off), y1=py(ly + off), line=dict(color=color, width=1)))
        text(tx, ly + off, name, 15, anchor='left')
    # axis titles
    text(583.5, 424 + off, 'Frequency (Hz)', 18)
    text(60, 214 + off, unit, 18, angle=-90)
    # footer
    text(47, 453 + off, 'T0=24/06/2026 01:22:49', 17, anchor='left')
    text(550.5, 453 + off, 'Avg=9/Bin=11L', 17)
    text(1068, 453 + off, 'BW=0.0117178', 17, anchor='right')

fig.update_layout(width=W, height=H, margin=dict(l=0, r=0, t=0, b=0, pad=0),
                  paper_bgcolor=BG, plot_bgcolor='rgba(0,0,0,0)', template='none',
                  showlegend=False, hovermode=False, shapes=shapes, annotations=annotations,
                  font=dict(family=FONT, color='black'), **layout_axes)

fig.write_html('out.html', config={'displayModeBar': False},
               post_script="document.body.style.margin='0px';document.body.style.overflow='hidden';")
